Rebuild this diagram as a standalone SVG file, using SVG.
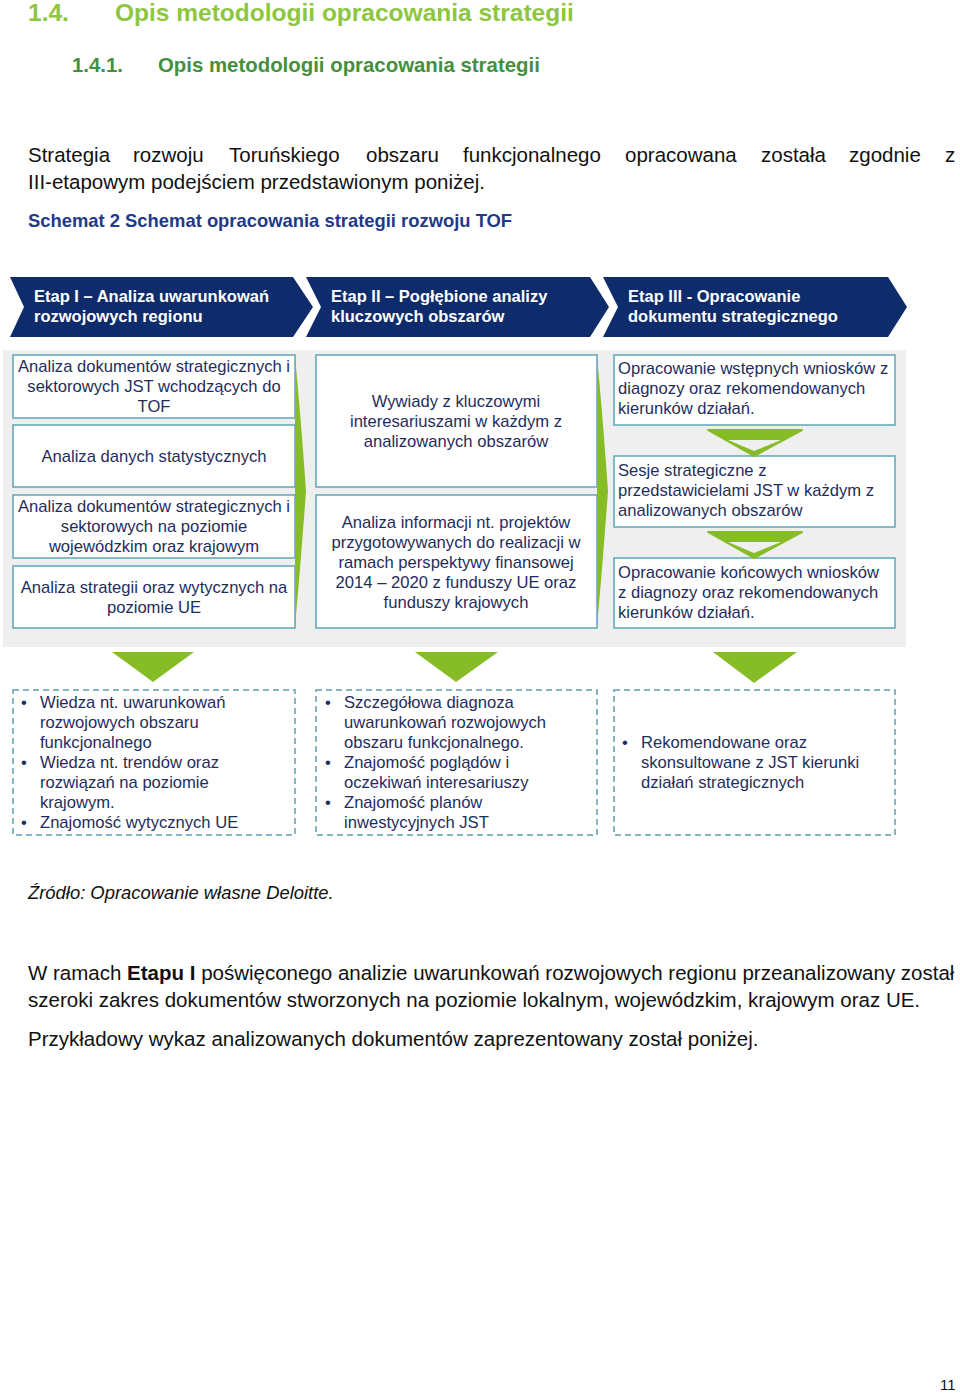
<svg xmlns="http://www.w3.org/2000/svg" width="960" height="1393" viewBox="0 0 960 1393">
<style>
text{font-family:"Liberation Sans",Arial,sans-serif}
.h1{font-size:24.5px;font-weight:bold;fill:#8dc63f}
.h2{font-size:20.4px;font-weight:bold;fill:#43913a}
.body{font-size:20.5px;fill:#111}
.cap{font-size:18.4px;font-weight:bold;fill:#1f3a87}
.src{font-size:18.4px;font-style:italic;fill:#111}
.chev{fill:#0e2b6b}
.chevt{font-size:16.5px;font-weight:bold;fill:#fff}
.box{fill:#fff;stroke:#5fa7b5;stroke-width:1.5}
.dbox{fill:#fff;stroke:#5f9fb0;stroke-width:1.5;stroke-dasharray:6 4}
.bt{font-size:16.6px;fill:#1f2d5c}
.c{text-anchor:middle}
.g{fill:#86bc25}
.bg{fill:#efefef}
</style>

<g id="heading">
<text class="h1" x="28" y="21">1.4.</text>
<text class="h1" x="115" y="21">Opis metodologii opracowania strategii</text>
<text class="h2" x="72" y="72">1.4.1.</text>
<text class="h2" x="158" y="72">Opis metodologii opracowania strategii</text>
</g>

<g id="intro">
<text class="body" y="162"><tspan x="28">Strategia</tspan><tspan x="133">rozwoju</tspan><tspan x="229">Toruńskiego</tspan><tspan x="366">obszaru</tspan><tspan x="463">funkcjonalnego</tspan><tspan x="625">opracowana</tspan><tspan x="761">została</tspan><tspan x="849">zgodnie</tspan><tspan x="945">z</tspan></text>
<text class="body" x="28" y="189">III-etapowym podejściem przedstawionym poniżej.</text>
<text class="cap" x="28" y="227">Schemat 2 Schemat opracowania strategii rozwoju TOF</text>
</g>

<g id="stage-headers">
<g id="etap1">
<polygon class="chev" points="10,277 293,277 313,307 293,337 10,337 24,307"/>
<text class="chevt" x="34" y="302">Etap I – Analiza uwarunkowań</text>
<text class="chevt" x="34" y="322">rozwojowych regionu</text>
</g>
<g id="etap2">
<polygon class="chev" points="306,277 590,277 609,307 590,337 306,337 321,307"/>
<text class="chevt" x="331" y="302">Etap II – Pogłębione analizy</text>
<text class="chevt" x="331" y="322">kluczowych obszarów</text>
</g>
<g id="etap3">
<polygon class="chev" points="603,277 888,277 907,307 888,337 603,337 618,307"/>
<text class="chevt" x="628" y="302">Etap III - Opracowanie</text>
<text class="chevt" x="628" y="322">dokumentu strategicznego</text>
</g>
</g>

<rect id="panel" class="bg" x="3" y="350" width="903" height="297"/>

<g id="col1">
<g id="c1b1"><rect class="box" x="13" y="355" width="282" height="63"/>
<text class="bt c" x="154" y="372">Analiza dokumentów strategicznych i</text>
<text class="bt c" x="154" y="392">sektorowych JST wchodzących do</text>
<text class="bt c" x="154" y="412">TOF</text></g>
<g id="c1b2"><rect class="box" x="13" y="425" width="282" height="62"/>
<text class="bt c" x="154" y="462">Analiza danych statystycznych</text></g>
<g id="c1b3"><rect class="box" x="13" y="495" width="282" height="63"/>
<text class="bt c" x="154" y="512">Analiza dokumentów strategicznych i</text>
<text class="bt c" x="154" y="532">sektorowych na poziomie</text>
<text class="bt c" x="154" y="552">wojewódzkim oraz krajowym</text></g>
<g id="c1b4"><rect class="box" x="13" y="566" width="282" height="62"/>
<text class="bt c" x="154" y="593">Analiza strategii oraz wytycznych  na</text>
<text class="bt c" x="154" y="613">poziomie UE</text></g>
</g>

<g id="col2">
<g id="c2b1"><rect class="box" x="316" y="355" width="281" height="132"/>
<text class="bt c" x="456" y="407">Wywiady z kluczowymi</text>
<text class="bt c" x="456" y="427">interesariuszami w każdym z</text>
<text class="bt c" x="456" y="447">analizowanych obszarów</text></g>
<g id="c2b2"><rect class="box" x="316" y="495" width="281" height="133"/>
<text class="bt c" x="456" y="528">Analiza informacji nt. projektów</text>
<text class="bt c" x="456" y="548">przygotowywanych  do realizacji w</text>
<text class="bt c" x="456" y="568">ramach perspektywy  finansowej</text>
<text class="bt c" x="456" y="588">2014 – 2020 z funduszy UE oraz</text>
<text class="bt c" x="456" y="608">funduszy krajowych</text></g>
</g>

<g id="col3">
<g id="c3b1"><rect class="box" x="614" y="355" width="281" height="70"/>
<text class="bt" x="618" y="374">Opracowanie wstępnych wniosków z</text>
<text class="bt" x="618" y="394">diagnozy oraz rekomendowanych</text>
<text class="bt" x="618" y="414">kierunków działań.</text></g>
<g id="c3b2"><rect class="box" x="614" y="456" width="281" height="71"/>
<text class="bt" x="618" y="476">Sesje strategiczne z</text>
<text class="bt" x="618" y="496">przedstawicielami JST w każdym z</text>
<text class="bt" x="618" y="516">analizowanych obszarów</text></g>
<g id="c3b3"><rect class="box" x="614" y="558" width="281" height="70"/>
<text class="bt" x="618" y="578">Opracowanie końcowych wniosków</text>
<text class="bt" x="618" y="598">z diagnozy oraz rekomendowanych</text>
<text class="bt" x="618" y="618">kierunków działań.</text></g>
</g>

<g id="connectors">
<path class="g" d="M295,356 Q301,420 306,491 Q301,560 295,627 Z"/>
<path class="g" d="M597,356 Q603,420 608,491 Q603,560 597,627 Z"/>
<path class="g" d="M708,430 L802,430 L754,456 Z" stroke="#86bc25" stroke-width="2" stroke-linejoin="round"/>
<path class="bg" d="M728,440 L781,440 L754,451 Z"/>
<path class="g" d="M708,532 L802,532 L754,558 Z" stroke="#86bc25" stroke-width="2" stroke-linejoin="round"/>
<path class="bg" d="M728,542 L781,542 L754,553 Z"/>
<polygon class="g" points="112,652 194,652 153,682"/>
<polygon class="g" points="415,652 498,652 456,682"/>
<polygon class="g" points="713,652 797,652 754,683"/>
</g>

<g id="results">
<g id="r1"><rect class="dbox" x="13" y="690" width="282" height="145"/>
<text class="bt" x="21" y="708">•</text><text class="bt" x="40" y="708">Wiedza nt. uwarunkowań</text>
<text class="bt" x="40" y="728">rozwojowych obszaru</text>
<text class="bt" x="40" y="748">funkcjonalnego</text>
<text class="bt" x="21" y="768">•</text><text class="bt" x="40" y="768">Wiedza nt. trendów oraz</text>
<text class="bt" x="40" y="788">rozwiązań na poziomie</text>
<text class="bt" x="40" y="808">krajowym.</text>
<text class="bt" x="21" y="828">•</text><text class="bt" x="40" y="828">Znajomość wytycznych  UE</text></g>
<g id="r2"><rect class="dbox" x="316" y="690" width="281" height="145"/>
<text class="bt" x="325" y="708">•</text><text class="bt" x="344" y="708">Szczegółowa diagnoza</text>
<text class="bt" x="344" y="728">uwarunkowań rozwojowych</text>
<text class="bt" x="344" y="748">obszaru funkcjonalnego.</text>
<text class="bt" x="325" y="768">•</text><text class="bt" x="344" y="768">Znajomość poglądów i</text>
<text class="bt" x="344" y="788">oczekiwań interesariuszy</text>
<text class="bt" x="325" y="808">•</text><text class="bt" x="344" y="808">Znajomość planów</text>
<text class="bt" x="344" y="828">inwestycyjnych JST</text></g>
<g id="r3"><rect class="dbox" x="614" y="690" width="281" height="145"/>
<text class="bt" x="622" y="748">•</text><text class="bt" x="641" y="748">Rekomendowane oraz</text>
<text class="bt" x="641" y="768">skonsultowane z JST kierunki</text>
<text class="bt" x="641" y="788">działań strategicznych</text></g>
</g>

<g id="footer-text">
<text class="src" x="28" y="899">Źródło: Opracowanie własne Deloitte.</text>
<text class="body" x="28" y="980">W ramach <tspan font-weight="bold">Etapu I</tspan> poświęconego analizie uwarunkowań rozwojowych regionu przeanalizowany został</text>
<text class="body" x="28" y="1007">szeroki zakres dokumentów stworzonych na poziomie lokalnym, wojewódzkim, krajowym oraz UE.</text>
<text class="body" x="28" y="1046">Przykładowy wykaz analizowanych dokumentów zaprezentowany został poniżej.</text>
<text x="940" y="1390" style="font-size:15px;fill:#111">11</text>
</g>
</svg>
